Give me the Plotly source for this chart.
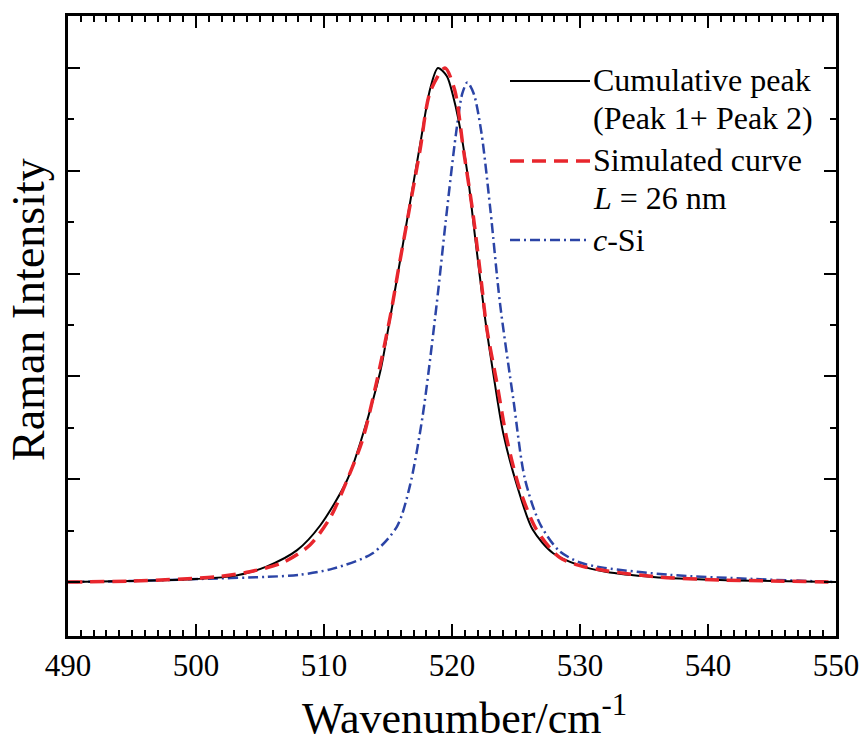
import plotly.graph_objects as go

# ---- data ----
x_cum = [490, 495, 500, 503, 505.5, 507.9, 509.7, 511.8, 513.0, 514.4, 515.0, 515.7,
         516.6, 517.5, 518.3, 518.9, 519.6, 520.1, 520.5, 521.2, 521.8, 522.6, 523.2,
         524.0, 525.1, 526.3, 527.9, 530.0, 532.0, 535.7, 540.9, 545.0, 550.0]
y_cum = [0.0, 0.01, 0.03, 0.06, 0.15, 0.31, 0.55, 0.99, 1.42, 2.05, 2.45, 2.95,
         3.6, 4.25, 4.8, 5.0, 4.92, 4.72, 4.5, 3.98, 3.36, 2.55, 2.05,
         1.45, 0.93, 0.51, 0.28, 0.16, 0.10, 0.05, 0.02, 0.01, 0.0]

x_sim = [490, 495, 501.6, 504.2, 506.8, 508.9, 510.5, 511.8, 513.0, 514.1, 515.2, 515.8,
         516.7, 517.5, 518.3, 519.45, 520.2, 520.9, 521.6, 522.3, 522.7, 523.5, 524.3,
         525.3, 526.6, 528.4, 530.0, 532.0, 536.0, 541.0, 545.0, 550.0]
y_sim = [0.0, 0.01, 0.05, 0.10, 0.19, 0.36, 0.63, 0.99, 1.38, 1.94, 2.6, 3.03,
         3.65, 4.2, 4.77, 5.0, 4.79, 4.2, 3.62, 2.91, 2.48, 1.94, 1.38,
         0.9, 0.51, 0.24, 0.16, 0.11, 0.05, 0.02, 0.01, 0.0]

x_si = [490, 495, 500.3, 505.5, 508.1, 510.7, 513.8, 515.7, 516.7, 517.7, 518.8, 519.5,
        520.3, 520.8, 521.2, 521.7, 522.3, 523.0, 523.75, 524.8, 525.7, 526.9, 528.4,
        530.0, 531.8, 537.0, 543.5, 550.0]
y_si = [0.0, 0.01, 0.03, 0.05, 0.07, 0.13, 0.28, 0.54, 0.93, 1.61, 2.7, 3.5,
        4.35, 4.75, 4.86, 4.75, 4.37, 3.62, 2.71, 1.77, 1.0, 0.56, 0.3,
        0.19, 0.14, 0.07, 0.03, 0.0]

x_ticks = [490, 500, 510, 520, 530, 540, 550]

BLACK = "#000000"
RED = "#e8262d"
BLUE = "#2b44a6"
FONT = "Liberation Serif"

fig = go.Figure()
fig.add_trace(go.Scatter(x=x_si, y=y_si, mode="lines", line=dict(color=BLUE, width=2.5, dash="10px,4px,2px,4px", shape="spline", smoothing=0.8), showlegend=False))
fig.add_trace(go.Scatter(x=x_cum, y=y_cum, mode="lines", line=dict(color=BLACK, width=2, shape="spline", smoothing=0.8), showlegend=False))
fig.add_trace(go.Scatter(x=x_sim, y=y_sim, mode="lines", line=dict(color=RED, width=3.5, dash="14px,8px", shape="spline", smoothing=0.8), showlegend=False))

# custom legend (long line samples)
W, H = 863, 742
L, R, T, B = 68, 27, 16, 106
pw, ph = W - L - R, H - T - B

def px(xp):
    return (xp - L) / pw

def py(yp):
    return (H - B - yp) / ph

legend_items = [
    (81, BLACK, 2, "solid"),
    (161, RED, 3.5, "14px,8px"),
    (240, BLUE, 2.5, "10px,4px,2px,4px"),
]
for yy, col, w, d in legend_items:
    fig.add_shape(type="line", xref="paper", yref="paper", x0=px(510), x1=px(590), y0=py(yy), y1=py(yy),
                  line=dict(color=col, width=w, dash=d))

legend_texts = [
    (80, "Cumulative peak"),
    (118, "(Peak 1+ Peak 2)"),
    (160, "Simulated curve"),
    (198, "<i>L</i> = 26 nm"),
    (240, "<i>c</i>-Si"),
]
for yy, t in legend_texts:
    fig.add_annotation(xref="paper", yref="paper", x=px(591), y=py(yy), text=t, showarrow=False,
                       xanchor="left", yanchor="middle", font=dict(family=FONT, size=32, color="black"))

# axis titles placed as annotations to match the reference positions
fig.add_annotation(xref="paper", yref="paper", x=px(464), y=py(716), text="Wavenumber/cm<sup>-1</sup>",
                   showarrow=False, xanchor="center", yanchor="middle",
                   font=dict(family=FONT, size=44, color="black"))
fig.add_annotation(xref="paper", yref="paper", x=px(28), y=py(310), text="Raman Intensity", textangle=-90,
                   showarrow=False, xanchor="center", yanchor="middle",
                   font=dict(family=FONT, size=46, color="black"))

axis_common = dict(showline=True, linecolor="black", linewidth=2.5, mirror="allticks",
                   ticks="inside", tickcolor="black", tickwidth=2, showgrid=False, zeroline=False)

fig.update_xaxes(range=[490, 550], tickvals=x_ticks, ticklen=12,
                 minor=dict(dtick=1, ticks="inside", ticklen=6, tickcolor="black", tickwidth=1.5),
                 tickfont=dict(family=FONT, size=31, color="black"),
                 **axis_common)
fig.update_yaxes(range=[-0.525, 5.506], tickvals=[0, 1, 2, 3, 4, 5], ticklen=12, showticklabels=False,
                 minor=dict(tickvals=[0.5, 1.5, 2.5, 3.5, 4.5], ticks="inside", ticklen=6, tickcolor="black", tickwidth=1.5),
                 **axis_common)

fig.update_layout(width=W, height=H, margin=dict(l=L, r=R, t=T, b=B, autoexpand=False),
                  paper_bgcolor="white", plot_bgcolor="white", showlegend=False)

fig.write_html("out.html")
